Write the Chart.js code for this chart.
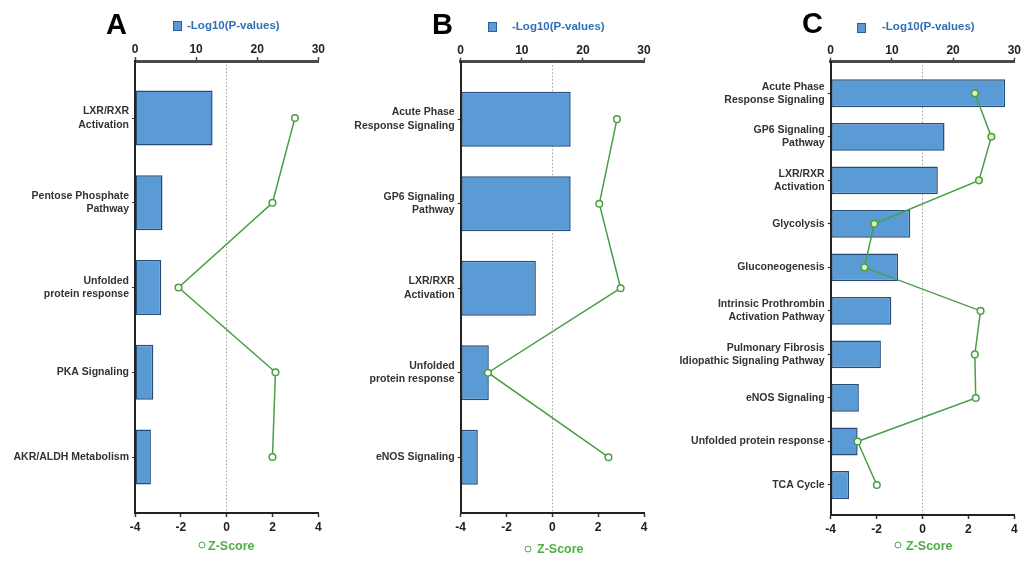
<!DOCTYPE html>
<html>
<head>
<meta charset="utf-8">
<script src="https://cdn.jsdelivr.net/npm/chart.js@4.4.1/dist/chart.umd.min.js"></script>
<style>
  html, body { margin: 0; padding: 0; background: #fff; width: 1028px; height: 562px; overflow: hidden; }
  canvas { position: absolute; top: 0; }
  .t { position: absolute; transform: translateY(-50%); line-height: 1; white-space: nowrap;
       font-family: 'Liberation Sans', Arial, sans-serif; font-weight: bold; }
  .letter { font-size: 29px; color: #000; }
  .ptxt { font-size: 11.5px; color: #2f6fb8; }
  .ztxt { font-size: 12.5px; color: #4fae45; }
  .pbox { position: absolute; width: 9px; height: 10px; background: #5b9bd5; border: 1px solid #2f5f95; box-sizing: border-box; }
  .zdot { position: absolute; width: 7px; height: 7px; border: 1.5px solid #4ca84a; border-radius: 50%;
          background: #fff; box-sizing: border-box; transform: translate(-50%, -50%); }
</style>
</head>
<body>
<canvas id="cA" width="335" height="562" style="left:0px;width:335px;height:562px"></canvas>
<canvas id="cB" width="330" height="562" style="left:340px;width:330px;height:562px"></canvas>
<canvas id="cC" width="358" height="562" style="left:670px;width:358px;height:562px"></canvas>

<!-- panel letters -->
<div class="t letter" style="left:106px;top:23.5px">A</div>
<div class="t letter" style="left:432px;top:24px">B</div>
<div class="t letter" style="left:802px;top:23px">C</div>

<!-- -Log10(P-values) legends -->
<div class="pbox" style="left:173px;top:21px"></div>
<div class="t ptxt" style="left:187px;top:26px">-Log10(P-values)</div>
<div class="pbox" style="left:488px;top:22px"></div>
<div class="t ptxt" style="left:512px;top:27px">-Log10(P-values)</div>
<div class="pbox" style="left:857px;top:22.5px"></div>
<div class="t ptxt" style="left:882px;top:27px">-Log10(P-values)</div>

<!-- Z-Score legends -->
<div class="zdot" style="left:201.5px;top:545px"></div>
<div class="t ztxt" style="left:208px;top:545.5px">Z-Score</div>
<div class="zdot" style="left:528px;top:549px"></div>
<div class="t ztxt" style="left:537px;top:549px">Z-Score</div>
<div class="zdot" style="left:898px;top:545px"></div>
<div class="t ztxt" style="left:906px;top:545.5px">Z-Score</div>

<script>
// Panel A: pathway names, -log10(p) and activation z-scores
const catsA = ['LXR/RXR\nActivation', 'Pentose Phosphate\nPathway', 'Unfolded\nprotein response',
               'PKA Signaling', 'AKR/ALDH Metabolism'];
const pA = [12.7, 4.5, 4.3, 3.0, 2.6];
const zA = [2.98, 2.0, -2.1, 2.13, 2.0];

// Panel B
const catsB = ['Acute Phase\nResponse Signaling', 'GP6 Signaling\nPathway', 'LXR/RXR\nActivation',
               'Unfolded\nprotein response', 'eNOS Signaling'];
const pB = [18.0, 18.0, 12.3, 4.6, 2.8];
const zB = [2.82, 2.05, 2.98, -2.81, 2.45];

// Panel C
const catsC = ['Acute Phase\nResponse Signaling', 'GP6 Signaling\nPathway', 'LXR/RXR\nActivation',
               'Glycolysis', 'Gluconeogenesis', 'Intrinsic Prothrombin\nActivation Pathway',
               'Pulmonary Fibrosis\nIdiopathic Signaling Pathway', 'eNOS Signaling',
               'Unfolded protein response', 'TCA Cycle'];
const pC = [28.5, 18.6, 17.5, 13.0, 11.0, 9.9, 8.2, 4.6, 4.4, 3.0];
const zC = [2.28, 3.0, 2.46, -2.1, -2.53, 2.53, 2.28, 2.32, -2.83, -1.99];

// Axis tick settings
const pRange = [0, 30], pStep = 10;
const zRange = [-4, 4], zStep = 2;

const FONT = "'Liberation Sans', Arial, sans-serif";
const GREEN = '#4a9e45';
const BAR_FILL = '#5b9bd5';
const BAR_EDGE = '#264c78';

Chart.defaults.font.family = FONT;

function makePanel(id, cats, pv, zv, g) {
  const idx = cats.map((_, i) => i);
  new Chart(document.getElementById(id), {
    type: 'bar',
    data: {
      datasets: [
        {
          type: 'line', label: 'Z-Score', indexAxis: 'y', xAxisID: 'xz', yAxisID: 'y',
          data: zv.map((v, i) => ({ x: v, y: i })),
          borderColor: GREEN, borderWidth: 1.5, tension: 0,
          pointRadius: 3.3, pointBorderWidth: 1.5, pointBorderColor: GREEN,
          pointBackgroundColor: g.pointFill || '#ffffff',
          order: 0
        },
        {
          type: 'bar', label: '-Log10(P-values)', indexAxis: 'y', xAxisID: 'xp', yAxisID: 'y',
          data: pv.map((v, i) => ({ x: v, y: i })),
          backgroundColor: BAR_FILL, borderColor: BAR_EDGE, borderWidth: 1.5, borderSkipped: false,
          barPercentage: g.barPct, categoryPercentage: 1,
          order: 1
        }
      ]
    },
    options: {
      indexAxis: 'y',
      responsive: false, animation: false, devicePixelRatio: 1,
      layout: { padding: { left: 0, right: g.right, top: 0, bottom: g.bottom } },
      plugins: { legend: { display: false }, tooltip: { enabled: false } },
      scales: {
        y: {
          type: 'linear', position: 'left', reverse: true, offset: false,
          min: g.ymin, max: g.ymax,
          afterFit: s => { s.width = g.yWidth; },
          afterBuildTicks: s => { s.ticks = idx.map(v => ({ value: v })); },
          ticks: {
            autoSkip: false, padding: 3, color: '#333',
            font: { size: 10.5, weight: 'bold', lineHeight: 1.27 },
            callback: (v, i) => cats[i].split('\n')
          },
          grid: { offset: false, drawOnChartArea: false, drawTicks: true, tickLength: 3, tickColor: '#333', tickWidth: 1.2 },
          border: { color: '#222', width: 2, z: 1 }
        },
        xp: {
          type: 'linear', position: 'top', min: pRange[0], max: pRange[1],
          afterFit: s => { s.height = g.topH; },
          ticks: { stepSize: pStep, padding: 0, color: '#222', font: { size: 12, weight: 'bold' } },
          grid: { drawOnChartArea: false, tickLength: 4, tickColor: '#444', tickWidth: 1.5 },
          border: { color: '#4a4a4a', width: 3 }
        },
        xz: {
          type: 'linear', position: 'bottom', min: zRange[0], max: zRange[1],
          afterFit: s => { s.height = g.botH; },
          ticks: { stepSize: zStep, padding: 3, color: '#222', font: { size: 12, weight: 'bold' } },
          grid: {
            drawOnChartArea: true, lineWidth: 1, tickLength: 4, tickColor: '#333', tickWidth: 1.5,
            color: c => (c.tick && c.tick.value === 0) ? '#a0a0a0' : 'rgba(0,0,0,0)'
          },
          border: { color: '#222', width: 2, dash: [1.5, 2] }
        }
      }
    }
  });
}

makePanel('cA', catsA, pA, zA, {
  yWidth: 135, right: 16.7, topH: 61, botH: 22, bottom: 27,
  ymin: -0.673, ymax: 4.66, barPct: 0.65
});
makePanel('cB', catsB, pB, zB, {
  yWidth: 120.7, right: 26, topH: 61.7, botH: 22, bottom: 27,
  ymin: -0.68, ymax: 4.66, barPct: 0.65
});
makePanel('cC', catsC, pC, zC, {
  yWidth: 160.7, right: 13.7, topH: 61.7, botH: 22, bottom: 25,
  ymin: -0.726, ymax: 9.69, barPct: 0.64,
  pointFill: ['#dcf5b4', '#dcf5b4', '#dcf5b4', '#dcf5b4', '#dcf5b4', '#fff', '#fff', '#fff', '#fff', '#fff']
});
</script>
</body>
</html>
